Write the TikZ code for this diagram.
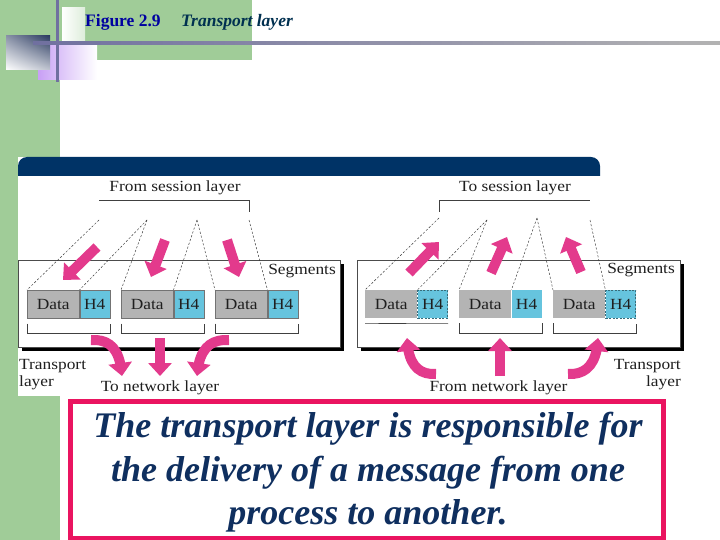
\documentclass[tikz,border=0pt]{standalone}
\usepackage{fontspec}
\setmainfont{Liberation Serif}
\newfontfamily\diafont[FakeStretch=1.12]{Liberation Serif}
\usetikzlibrary{arrows.meta,bending,shadows,shadings}
\definecolor{bggreen}{HTML}{A0CC98}
\definecolor{navybar}{HTML}{003366}
\definecolor{pinkarrow}{HTML}{E33A8C}
\definecolor{hblue}{HTML}{66C4DE}
\definecolor{datagray}{HTML}{B4B4B4}
\definecolor{pinkborder}{HTML}{EA1460}
\definecolor{textnavy}{HTML}{0F2F5F}
\definecolor{titleblue}{HTML}{0000A0}
\definecolor{titleteal}{HTML}{003050}
\definecolor{decoline}{HTML}{7070A0}
\definecolor{decopurple}{HTML}{C8A0F5}
\definecolor{deconavy}{HTML}{2C3C62}
\begin{document}
\begin{tikzpicture}[x=1pt,y=-1pt,
  lbl/.style={font=\diafont\fontsize{15.5}{18}\selectfont, inner sep=0pt, text=black!88},
  panel/.style={draw=black!70, line width=0.6pt, fill=white, anchor=north west, inner sep=0pt,
     minimum height=87pt,
     drop shadow={shadow xshift=3.5pt, shadow yshift=-3.5pt, fill=black, opacity=1}},
  databox/.style={fill=datagray, anchor=north west, minimum width=52pt, minimum height=28pt,
     inner sep=0pt, text=black!88, font=\diafont\fontsize{15.5}{18}\selectfont},
  hbox/.style={fill=hblue, anchor=north west, minimum width=30pt, minimum height=28pt,
     inner sep=0pt, text=black!88, font=\diafont\fontsize{15.5}{18}\selectfont},
  outl/.style={draw=black!55, line width=0.5pt},
  dashbox/.style={draw=black!45!hblue, dash pattern=on 2pt off 1.5pt, line width=0.7pt},
  splitline/.style={draw=black!80, line width=0.45pt, dash pattern=on 2.2pt off 1.8pt},
  bracketline/.style={draw=black!75, line width=0.6pt},
  blockarrow/.style={draw=pinkarrow, line width=10pt, -{Triangle[length=13pt,width=23pt,flex]}},
  msgtext/.style={font=\fontsize{36}{44}\selectfont\bfseries\itshape, text=textnavy, inner sep=0pt, anchor=base},
]
\useasboundingbox (0,0) rectangle (720,540);
% ---------- slide background ----------
\fill[white] (0,0) rectangle (720,540);
\fill[bggreen] (0,0) rectangle (60,540);
\fill[bggreen] (60,0) rectangle (252,60);
\shade[left color=white, right color=bggreen!35!white] (62,8) rectangle (85,44);
\shade[left color=decopurple, middle color=decopurple!75, right color=white] (38,43) rectangle (97,80);
\shade[upper right=deconavy, upper left=deconavy!55, lower right=deconavy!30, lower left=white] (6,36) rectangle (50,70);
\fill[decoline] (55.5,0) rectangle (59,82);
\shade[left color=decoline, right color=black!30] (33,42) rectangle (720,45);
\node[font=\fontsize{17.5}{20}\selectfont\bfseries, text=titleblue, anchor=base west, inner sep=0pt] (fig) at (85,27) {Figure 2.9};
\node[font=\fontsize{17.5}{20}\selectfont\bfseries\itshape, text=titleteal, anchor=base west, inner sep=0pt] (ttl) at (181,27) {Transport layer};
% ---------- diagram area ----------
\fill[white] (18,157) rectangle (690,396);
\fill[navybar] (600,157) -- (600,176) -- (18,176) [rounded corners=9pt] -- (18,157) -- cycle;
% panels
\node[panel, minimum width=322pt] (lp) at (18,260) {};
\node[panel, minimum width=323pt] (rp) at (357,260) {};
\node[lbl, anchor=east] (lseg) at (336,271) {Segments};
\node[lbl, anchor=east] (rseg) at (675,270) {Segments};
% left packets
\node[databox, outl] (d1) at (27,290) {Data};
\node[hbox, outl] (h1) at (d1.north east) {H4};
\node[databox, outl] (d2) at (121,290) {Data};
\node[hbox, outl] (h2) at (d2.north east) {H4};
\node[databox, outl] (d3) at (215,290) {Data};
\node[hbox, outl] (h3) at (d3.north east) {H4};
% right packets
\node[databox] (e1) at (365,290) {Data};
\node[hbox, dashbox] (g1) at (e1.north east) {H4};
\node[databox] (e2) at (459,290) {Data};
\node[hbox] (g2) at (e2.north east) {H4};
\node[databox] (e3) at (553,290) {Data};
\node[hbox, dashbox] (g3) at (e3.north east) {H4};
% brackets under packets
\draw[bracketline] ([yshift=-5pt]d1.south west) -- ++(0,10) -| ([yshift=-5pt]h1.south east);
\draw[bracketline] ([yshift=-5pt]d2.south west) -- ++(0,10) -| ([yshift=-5pt]h2.south east);
\draw[bracketline] ([yshift=-5pt]d3.south west) -- ++(0,10) -| ([yshift=-5pt]h3.south east);
\draw[bracketline] ([yshift=-5pt]e1.south west) -- ([yshift=-5pt]g1.south east);
\draw[bracketline] ([yshift=-5pt]e2.south west) -- ++(0,10) -| ([yshift=-5pt]g2.south east);
\draw[bracketline] ([yshift=-5pt]e3.south west) -- ++(0,10) -| ([yshift=-5pt]g3.south east);
% session layer labels and brackets
\node[lbl] (fromsess) at (175,188) {From session layer};
\node[lbl] (tosess) at (515,188) {To session layer};
\draw[bracketline] (99,200) -- (249,200) -- (249,212);
\draw[bracketline] (439,212) -- (439,200) -- (590,200);
% split lines (left)
\coordinate (s1) at (99,220);
\coordinate (s2) at (147,220);
\coordinate (s3) at (197,220);
\coordinate (s4) at (249,220);
\draw[splitline] (s1) -- (d1.north west);
\draw[splitline] (s2) -- (d1.north east);
\draw[splitline] (s2) -- (d2.north west);
\draw[splitline] (s3) -- (d2.north east);
\draw[splitline] (s3) -- (d3.north west);
\draw[splitline] (s4) -- (d3.north east);
% split lines (right)
\coordinate (t1) at (439,218);
\coordinate (t2) at (487,220);
\coordinate (t3) at (537,218);
\coordinate (t4) at (590,220);
\draw[splitline] (t1) -- (e1.north west);
\draw[splitline] (t2) -- (e1.north east);
\draw[splitline] (t2) -- (e2.north west);
\draw[splitline] (t3) -- (e2.north east);
\draw[splitline] (t3) -- (e3.north west);
\draw[splitline] (t4) -- (e3.north east);
% top block arrows
\coordinate (la1s) at (97,247);  \coordinate (la1e) at (63,280);
\coordinate (la2s) at (165,240); \coordinate (la2e) at (151,277);
\coordinate (la3s) at (227,240); \coordinate (la3e) at (239,277);
\coordinate (ra1s) at (409,273); \coordinate (ra1e) at (439,242);
\coordinate (ra2s) at (491,273); \coordinate (ra2e) at (507,237);
\coordinate (ra3s) at (581,272); \coordinate (ra3e) at (566,237);
\draw[blockarrow] (la1s) -- (la1e);
\draw[blockarrow] (la2s) -- (la2e);
\draw[blockarrow] (la3s) -- (la3e);
\draw[blockarrow] (ra1s) -- (ra1e);
\draw[blockarrow] (ra2s) -- (ra2e);
\draw[blockarrow] (ra3s) -- (ra3e);
% bottom block arrows
\coordinate (lb1s) at (91,340);  \coordinate (lb1e) at (122,376);
\coordinate (lb2s) at (160,338); \coordinate (lb2e) at (160,376);
\coordinate (lb3s) at (229,340); \coordinate (lb3e) at (197,376);
\coordinate (rb1s) at (436,374); \coordinate (rb1e) at (407,338);
\coordinate (rb2s) at (500,376); \coordinate (rb2e) at (500,338);
\coordinate (rb3s) at (568,374); \coordinate (rb3e) at (598,338);
\draw[blockarrow] (lb1s) .. controls (109,339) and (120,348) .. (lb1e);
\draw[blockarrow] (lb2s) -- (lb2e);
\draw[blockarrow] (lb3s) .. controls (211,339) and (199,348) .. (lb3e);
\draw[blockarrow] (rb1s) .. controls (418,375) and (408,364) .. (rb1e);
\draw[blockarrow] (rb2s) -- (rb2e);
\draw[blockarrow] (rb3s) .. controls (586,375) and (597,364) .. (rb3e);
% bottom labels
\node[lbl] (tonet) at (160,388) {To network layer};
\node[lbl] (fromnet) at (498.5,388) {From network layer};
\node[lbl, align=left, anchor=north west, font=\diafont\fontsize{15.5}{17.5}\selectfont] (ltl) at (19,359) {Transport\\layer};
\node[lbl, align=right, anchor=north east, font=\diafont\fontsize{15.5}{17.5}\selectfont] (rtl) at (681,359) {Transport\\layer};
% ---------- message box ----------
\node[draw=pinkborder, line width=5pt, fill=white, minimum width=593pt, minimum height=137pt, inner sep=0pt] (msg) at (367,469.5) {};
\node[msgtext] (m1) at (368,437) {The transport layer is responsible for};
\node[msgtext] (m2) at (368,481) {the delivery of a message from one};
\node[msgtext] (m3) at (368,524) {process to another.};
\end{tikzpicture}
\end{document}
